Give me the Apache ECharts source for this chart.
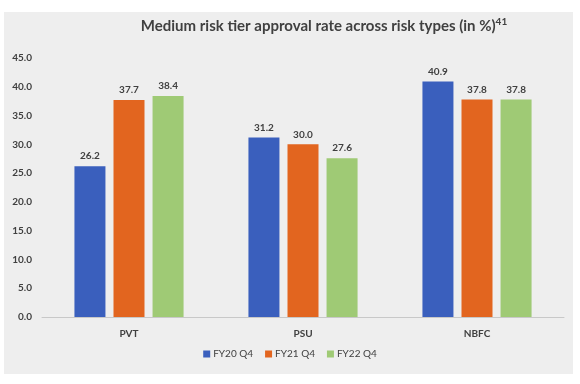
<!DOCTYPE html>
<html><head><meta charset="utf-8">
<script src="https://cdn.jsdelivr.net/npm/echarts@6/dist/echarts.min.js"></script>
<style>html,body{margin:0;padding:0;background:#fff}#c{width:580px;height:384px}</style>
</head><body><div id="c"></div>
<script>
const categories = ['PVT', 'PSU', 'NBFC'];
const seriesNames = ['FY20 Q4', 'FY21 Q4', 'FY22 Q4'];
const fy20 = [26.2, 31.2, 40.9];
const fy21 = [37.7, 30.0, 37.8];
const fy22 = [38.4, 27.6, 37.8];
const colors = ['#3a5fbd', '#e2651f', '#9fca75'];
const font = 'Lato, "Open Sans", sans-serif';
const chart = echarts.init(document.getElementById('c'));
const mk = (name, data, i) => ({
  name, type: 'bar', data, barWidth: 31, barGap: '26%',
  itemStyle: { color: colors[i] },
  label: { show: true, position: 'top', formatter: p => p.value.toFixed(1), fontFamily: font, fontSize: 10, fontWeight: 'bold', color: '#404040', distance: 5 }
});
chart.setOption({
  animation: false,
  graphic: [{ type: 'rect', z: -10, shape: { x: 4, y: 12, width: 569, height: 362 }, style: { fill: '#eeeeee' } }],
  title: {
    text: '{t|Medium risk tier approval rate across risk types (in %)}{s|41}',
    left: 319, textAlign: 'center', top: 12,
    textStyle: { rich: {
      t: { fontFamily: font, fontSize: 15, fontWeight: 'bold', color: '#404040' },
      s: { fontFamily: font, fontSize: 10, fontWeight: 'bold', color: '#404040', verticalAlign: 'top', padding: [0, 0, 8, 0] }
    } }
  },
  legend: {
    data: seriesNames, bottom: 20, left: 'center', itemWidth: 7, itemHeight: 7, itemGap: 12, icon: 'rect',
    textStyle: { fontFamily: font, fontSize: 10, color: '#404040', padding: [0, 0, 0, -2] }
  },
  grid: { left: 42, right: 16, top: 58, bottom: 67 },
  xAxis: {
    type: 'category', data: categories,
    axisLine: { lineStyle: { color: '#c8c8c8' } }, axisTick: { show: false },
    axisLabel: { fontFamily: font, fontSize: 10, fontWeight: 'bold', color: '#404040', margin: 12 }
  },
  yAxis: {
    type: 'value', min: 0, max: 45, interval: 5,
    splitLine: { show: false }, axisLine: { show: false }, axisTick: { show: false },
    axisLabel: { formatter: v => v.toFixed(1), fontFamily: font, fontSize: 10, fontWeight: 'bold', color: '#404040', margin: 10 }
  },
  series: [mk(seriesNames[0], fy20, 0), mk(seriesNames[1], fy21, 1), mk(seriesNames[2], fy22, 2)]
});
</script></body></html>
